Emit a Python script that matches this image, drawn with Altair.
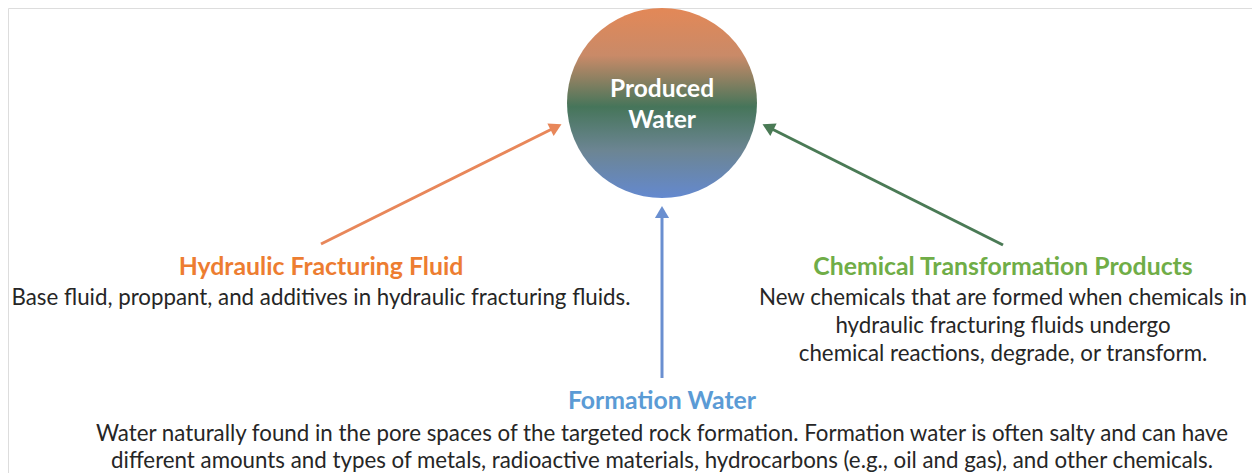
import altair as alt
import pandas as pd

# ---- content ----
center_label = ["Produced", "Water"]
headings = ["Hydraulic Fracturing Fluid", "Chemical Transformation Products", "Formation Water"]
bodies = [
    ["Base fluid, proppant, and additives in hydraulic fracturing fluids."],
    ["New chemicals that are formed when chemicals in",
     "hydraulic fracturing fluids undergo",
     "chemical reactions, degrade, or transform."],
    ["Water naturally found in the pore spaces of the targeted rock formation. Formation water is often salty and can have",
     "different amounts and types of metals, radioactive materials, hydrocarbons (e.g., oil and gas), and other chemicals."],
]
heading_colors = ["#ED7D31", "#70AD47", "#5B9BD5"]
arrow_colors = ["#E8875A", "#4A7A55", "#6A8FD0"]

# ---- layout (page pixel coordinates) ----
circle_xy = (662, 103)
circle_d = 190
center_label_y = [89.5, 120.5]
heading_xy = [(321, 268), (1003, 268), (662, 402)]
body_y = [[298], [298, 326, 354], [434, 461]]
arrow_from = [(321, 244), (1003, 245), (662, 378)]
arrow_to = [(556, 127), (768, 127), (662, 212)]
arrow_angle = [63.5, 296.5, 0]

W, H = 1244, 465
xs = alt.Scale(domain=[8, 8 + W], nice=False, zero=False)
ys = alt.Scale(domain=[8, 8 + H], nice=False, zero=False, reverse=True)
X = lambda f: alt.X(f, type="quantitative", scale=xs, axis=None)
Y = lambda f: alt.Y(f, type="quantitative", scale=ys, axis=None)

grad = alt.LinearGradient(
    gradient="linear", x1=0, y1=0, x2=0, y2=1,
    stops=[alt.GradientStop(offset=0, color="#E38857"),
           alt.GradientStop(offset=0.25, color="#C98A68"),
           alt.GradientStop(offset=0.52, color="#46755A"),
           alt.GradientStop(offset=0.75, color="#6C8593"),
           alt.GradientStop(offset=1, color="#6489CF")])

circ_df = pd.DataFrame({"x": [circle_xy[0]], "y": [circle_xy[1]]})
circle = alt.Chart(circ_df).mark_point(
    shape="circle", filled=True, size=circle_d ** 2, opacity=1, fill=grad, strokeWidth=0
).encode(x=X("x"), y=Y("y"))

cl_df = pd.DataFrame({"x": [circle_xy[0]] * 2, "y": center_label_y, "t": center_label})
clabel = alt.Chart(cl_df).mark_text(
    font="Lato", fontWeight="bold", fontSize=24.5, color="white", baseline="middle", align="center"
).encode(x=X("x"), y=Y("y"), text="t:N")

rows = []
for i, (fx, fy) in enumerate(arrow_from):
    rows.append({"id": i, "x": fx, "y": fy, "x2": arrow_to[i][0], "y2": arrow_to[i][1],
                 "c": arrow_colors[i], "a": arrow_angle[i]})
ar_df = pd.DataFrame(rows)
lines = alt.Chart(ar_df).mark_rule(strokeWidth=3).encode(
    x=X("x"), y=Y("y"), x2="x2:Q", y2="y2:Q",
    stroke=alt.Stroke("c:N", scale=None))
heads = alt.Chart(ar_df).mark_point(
    shape="triangle-up", filled=True, size=200, opacity=1, strokeWidth=0
).encode(x=X("x2"), y=Y("y2"), angle=alt.Angle("a:Q", scale=None),
         fill=alt.Fill("c:N", scale=None))

h_df = pd.DataFrame({"x": [p[0] for p in heading_xy], "y": [p[1] for p in heading_xy],
                     "t": headings, "c": heading_colors})
htext = alt.Chart(h_df).mark_text(
    font="Lato", fontWeight="bold", fontSize=24.8, baseline="middle", align="center"
).encode(x=X("x"), y=Y("y"), text="t:N", fill=alt.Fill("c:N", scale=None))

b_rows = []
for i, lines_ in enumerate(bodies):
    for j, t in enumerate(lines_):
        b_rows.append({"x": heading_xy[i][0], "y": body_y[i][j], "t": t})
b_df = pd.DataFrame(b_rows)
btext = alt.Chart(b_df).mark_text(
    font="Lato", fontSize=22.3, color="#262626", baseline="middle", align="center"
).encode(x=X("x"), y=Y("y"), text="t:N")

chart = alt.layer(lines, heads, circle, clabel, htext, btext).properties(
    width=W, height=H, padding=0, autosize=alt.AutoSizeParams(type="none")
).configure_view(strokeWidth=0, stroke="transparent").configure(background="white")

chart.save("out.html", embed_options={"renderer": "svg", "actions": False})
